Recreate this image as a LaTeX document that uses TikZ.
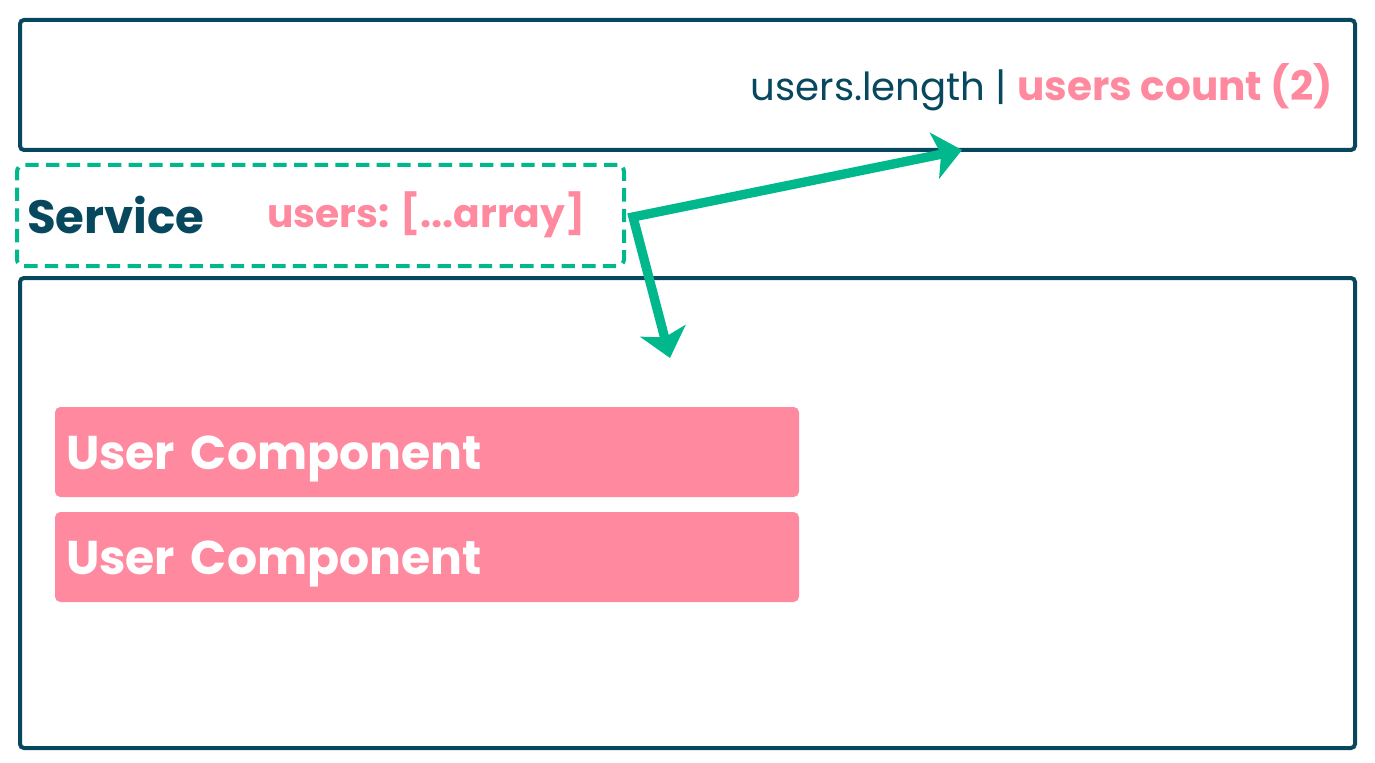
\documentclass[tikz,border=0pt]{standalone}
\usepackage{fontspec}
\setmainfont{Poppins}
\usetikzlibrary{arrows.meta}
\definecolor{boxline}{HTML}{08485E}
\definecolor{rose}{HTML}{FF8AA0}
\definecolor{mint}{HTML}{00B88C}

\begin{document}
\begin{tikzpicture}[x=0.75pt,y=-0.75pt]
 \tikzset{panel/.style = {draw=boxline,line width=3pt,rounded corners=3pt,minimum width=1001.25pt}}
 \tikzset{usercomp/.style = {fill=rose,rounded corners=4pt,minimum height=67.5pt,text width=541.5pt,
   text height=26pt,text depth=0pt,inner xsep=8.25pt,align=left,text=white,
   font=\fontsize{35.5}{38}\selectfont\bfseries}}
 \tikzset{flow/.style = {draw=mint,line width=7pt,line join=miter,
   {Stealth[length=21pt,width=35pt,inset=5pt]}-{Stealth[length=21pt,width=35pt,inset=5pt]}}}
 \useasboundingbox (0,0) rectangle (1375,763);
 \node[panel,minimum height=97.5pt] (top) at (687.5,85) {};
 \node[anchor=east,inner sep=0pt,text=boxline,font=\fontsize{29}{33}\selectfont] (count) at (1333,87)
   {users.length | \textcolor{rose}{\fontsize{30.4}{33}\selectfont\bfseries users count (2)}};
 \node[draw=mint,line width=3pt,dash pattern=on 10pt off 5.5pt,rounded corners=5pt,
   minimum width=455.25pt,minimum height=75.75pt] (service) at (320.5,215.5) {};
 \node[anchor=west,inner sep=0pt,text=boxline,font=\fontsize{35}{38}\selectfont\bfseries] (name) at (27,215) {Service};
 \node[anchor=west,inner sep=0pt,text=rose,font=\fontsize{29.4}{33}\selectfont\bfseries] (users) at (267,215) {users: [...array]};
 \node[panel,minimum height=352.5pt] (list) at (687.5,513) {};
 \node[usercomp] (userA) at (427,452) {User Component};
 \node[usercomp] (userB) at (427,557) {User Component};
 \coordinate (fork) at (633,217);
 \coordinate (countTip) at (962,150);
 \coordinate (listTip) at (670,358);
 \draw[flow] (countTip) -- (fork) -- (listTip);
\end{tikzpicture}
\end{document}
